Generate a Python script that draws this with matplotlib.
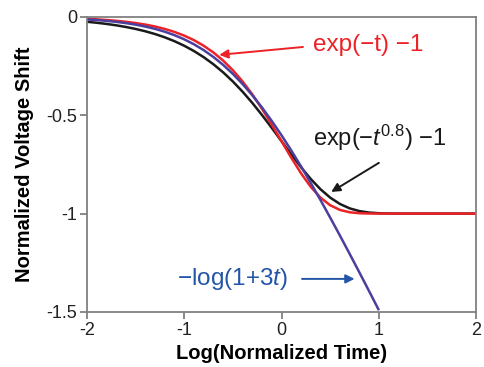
import matplotlib
matplotlib.use("Agg")
import matplotlib.pyplot as plt

plt.rcParams['font.family'] = ['Liberation Sans', 'DejaVu Sans']
plt.rcParams['mathtext.fontset'] = 'custom'
plt.rcParams['mathtext.rm'] = 'Liberation Sans'
plt.rcParams['mathtext.it'] = 'Liberation Sans:italic'

# log10 of normalized time
log_time = [-2.0, -1.9, -1.8, -1.7, -1.6, -1.5, -1.4, -1.3, -1.2, -1.1,
            -1.0, -0.9, -0.8, -0.7, -0.6, -0.5, -0.4, -0.3, -0.2, -0.1,
            0.0, 0.1, 0.2, 0.3, 0.4, 0.5, 0.6, 0.7, 0.8, 0.9,
            1.0, 1.1, 1.2, 1.3, 1.4, 1.5, 1.6, 1.7, 1.8, 1.9, 2.0]

# exp(-t) - 1
shift_exp = [-0.00995, -0.01251, -0.01572, -0.01976, -0.02481, -0.03113, -0.03903, -0.04888, -0.06115, -0.07636,
             -0.09516, -0.11829, -0.14657, -0.18088, -0.22213, -0.27111, -0.32841, -0.39419, -0.46791, -0.54811,
             -0.63212, -0.71604, -0.79504, -0.86402, -0.91889, -0.95767, -0.98134, -0.99335, -0.99818, -0.99965,
             -0.99995, -1.0, -1.0, -1.0, -1.0, -1.0, -1.0, -1.0, -1.0, -1.0, -1.0]

# exp(-t^0.8) - 1
shift_stretched = [-0.02481, -0.02975, -0.03566, -0.04271, -0.05113, -0.06115, -0.07305, -0.08716, -0.10385, -0.12350,
                   -0.14657, -0.17349, -0.20473, -0.24075, -0.28189, -0.32841, -0.38037, -0.43754, -0.49934, -0.56471,
                   -0.63212, -0.69949, -0.76435, -0.82409, -0.87621, -0.91889, -0.95120, -0.97350, -0.98729, -0.99474,
                   -0.99818, -0.99949, -0.99989, -1.0, -1.0, -1.0, -1.0, -1.0, -1.0, -1.0, -1.0]

# -log(1+3t), shown up to log time 1
log_time_log = [-2.0, -1.9, -1.8, -1.7, -1.6, -1.5, -1.4, -1.3, -1.2, -1.1,
                -1.0, -0.9, -0.8, -0.7, -0.6, -0.5, -0.4, -0.3, -0.2, -0.1,
                0.0, 0.1, 0.2, 0.3, 0.4, 0.5, 0.6, 0.7, 0.8, 0.9, 1.0]
shift_log = [-0.01284, -0.01611, -0.02017, -0.02525, -0.03155, -0.03936, -0.04900, -0.06083, -0.07529, -0.09283,
             -0.11394, -0.13915, -0.16893, -0.20374, -0.24392, -0.28974, -0.34130, -0.39856, -0.46133, -0.52930,
             -0.60206, -0.67914, -0.76002, -0.84422, -0.93124, -1.02064, -1.11204, -1.20509, -1.29948, -1.39497,
             -1.49136]

x_ticks = [-2, -1, 0, 1, 2]
x_tick_labels = ["-2", "-1", "0", "1", "2"]
y_ticks = [0, -0.5, -1, -1.5]
y_tick_labels = ["0", "-0.5", "-1", "-1.5"]

RED = "#ec2227"
BLACK = "#1a1a1a"
BLUE_LINE = "#4a3f9e"
BLUE_TEXT = "#2456a8"
GRAY = "#808080"

fig = plt.figure(figsize=(4.85, 3.67), dpi=100)
ax = fig.add_axes([0.179, 0.150, 0.803, 0.804])

ax.plot(log_time, shift_stretched, color=BLACK, lw=1.8, solid_capstyle='butt')
ax.plot(log_time, shift_exp, color=RED, lw=1.8, solid_capstyle='butt')
ax.plot(log_time_log, shift_log, color=BLUE_LINE, lw=1.8, solid_capstyle='butt')

ax.set_xlim(-2, 2)
ax.set_ylim(-1.5, 0)
ax.set_xticks(x_ticks)
ax.set_xticklabels(x_tick_labels)
ax.set_yticks(y_ticks)
ax.set_yticklabels(y_tick_labels)

for s in ax.spines.values():
    s.set_color(GRAY)
    s.set_linewidth(1.3)
ax.tick_params(axis='both', direction='out', length=5, width=1.3, color=GRAY,
               labelsize=13, labelcolor="#222222", pad=2)

ax.set_xlabel("Log(Normalized Time)", fontsize=14.5, fontweight='bold', labelpad=4)
ax.set_ylabel("Normalized Voltage Shift", fontsize=14.5, fontweight='bold', labelpad=9)

arrow_kw = dict(arrowstyle='-|>', lw=1.4, mutation_scale=13, shrinkA=0, shrinkB=0)

ax.annotate("", xy=(-0.64, -0.193), xytext=(0.22, -0.153),
            arrowprops=dict(color=RED, **arrow_kw))
ax.text(0.32, -0.142, "exp(\u2212t) \u22121", color=RED, fontsize=17.5,
        ha='left', va='center')

ax.annotate("", xy=(0.51, -0.89), xytext=(1.0, -0.742),
            arrowprops=dict(color=BLACK, **arrow_kw))
ax.text(0.32, -0.615, "exp(\u2212$\\mathit{t}^{0.8}$) \u22121", color=BLACK, fontsize=17,
        ha='left', va='center')

ax.annotate("", xy=(0.75, -1.332), xytext=(0.21, -1.332),
            arrowprops=dict(color=BLUE_TEXT, **arrow_kw))
ax.text(0.07, -1.332, "\u2212log(1+3$\\mathit{t}$)", color=BLUE_TEXT, fontsize=17.5,
        ha='right', va='center')

fig.savefig("out.png", dpi=100)
